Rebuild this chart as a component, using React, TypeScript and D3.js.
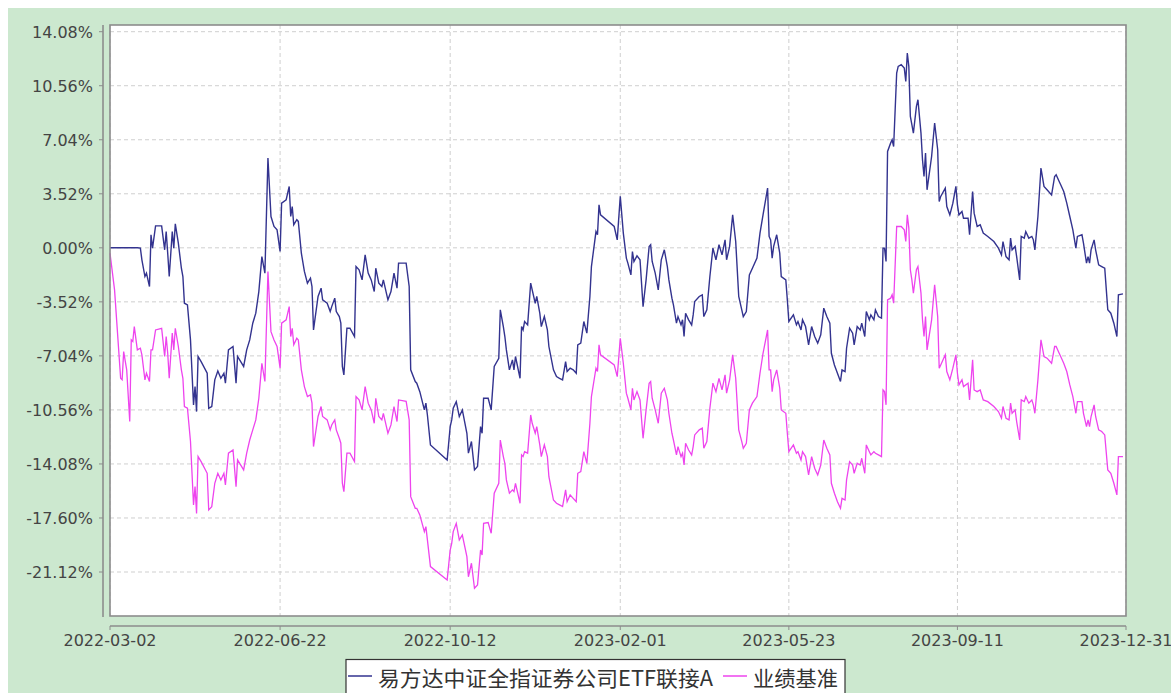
import React from "react";
import * as d3 from "d3";

const dates: string[] = [
"2022-03-02","2022-03-05","2022-03-09","2022-03-10","2022-03-11","2022-03-13","2022-03-15","2022-03-16","2022-03-17","2022-03-18",
"2022-03-20","2022-03-22","2022-03-23","2022-03-25","2022-03-26","2022-03-28","2022-03-29","2022-03-30","2022-04-01","2022-04-05",
"2022-04-07","2022-04-08","2022-04-09","2022-04-10","2022-04-12","2022-04-13","2022-04-14","2022-04-16","2022-04-18","2022-04-19",
"2022-04-20","2022-04-22","2022-04-24","2022-04-26","2022-04-27","2022-04-28","2022-04-29","2022-05-01","2022-05-05","2022-05-06",
"2022-05-08","2022-05-10","2022-05-12","2022-05-14","2022-05-16","2022-05-17","2022-05-19","2022-05-22","2022-05-24","2022-05-25",
"2022-05-29","2022-05-31","2022-06-02","2022-06-04","2022-06-06","2022-06-08","2022-06-10","2022-06-12","2022-06-14","2022-06-16",
"2022-06-18","2022-06-20","2022-06-22","2022-06-23","2022-06-26","2022-06-28","2022-06-29","2022-06-30","2022-07-01","2022-07-03",
"2022-07-04","2022-07-06","2022-07-08","2022-07-10","2022-07-12","2022-07-13","2022-07-14","2022-07-17","2022-07-19","2022-07-20",
"2022-07-23","2022-07-25","2022-07-26","2022-07-28","2022-07-29","2022-07-31","2022-08-01","2022-08-02","2022-08-03","2022-08-05",
"2022-08-07","2022-08-10","2022-08-11","2022-08-13","2022-08-15","2022-08-17","2022-08-19","2022-08-21","2022-08-23","2022-08-24",
"2022-08-26","2022-08-28","2022-08-29","2022-09-01","2022-09-03","2022-09-05","2022-09-07","2022-09-08","2022-09-13","2022-09-15",
"2022-09-16","2022-09-19","2022-09-20","2022-09-22","2022-09-25","2022-09-26","2022-09-27","2022-09-29","2022-10-10","2022-10-12",
"2022-10-13","2022-10-14","2022-10-16","2022-10-18","2022-10-20","2022-10-23","2022-10-24","2022-10-26","2022-10-28","2022-10-30",
"2022-11-01","2022-11-02","2022-11-03","2022-11-06","2022-11-08","2022-11-10","2022-11-13","2022-11-14","2022-11-16","2022-11-17",
"2022-11-18","2022-11-20","2022-11-22","2022-11-23","2022-11-24","2022-11-27","2022-11-28","2022-11-29","2022-11-30","2022-12-02",
"2022-12-04","2022-12-05","2022-12-07","2022-12-08","2022-12-10","2022-12-11","2022-12-13","2022-12-15","2022-12-16","2022-12-19",
"2022-12-21","2022-12-23","2022-12-25","2022-12-27","2022-12-28","2022-12-30","2023-01-01","2023-01-03","2023-01-04","2023-01-06",
"2023-01-08","2023-01-10","2023-01-12","2023-01-13","2023-01-16","2023-01-17","2023-01-18","2023-01-19","2023-01-28","2023-01-30",
"2023-02-01","2023-02-03","2023-02-05","2023-02-06","2023-02-08","2023-02-09","2023-02-10","2023-02-12","2023-02-14","2023-02-16",
"2023-02-18","2023-02-20","2023-02-21","2023-02-22","2023-02-24","2023-02-26","2023-02-28","2023-03-02","2023-03-04","2023-03-05",
"2023-03-07","2023-03-08","2023-03-10","2023-03-11","2023-03-13","2023-03-14","2023-03-15","2023-03-16","2023-03-18","2023-03-20",
"2023-03-21","2023-03-22","2023-03-25","2023-03-27","2023-03-28","2023-03-30","2023-04-01","2023-04-03","2023-04-05","2023-04-07",
"2023-04-09","2023-04-11","2023-04-12","2023-04-14","2023-04-16","2023-04-18","2023-04-20","2023-04-22","2023-04-23","2023-04-25",
"2023-04-27","2023-04-29","2023-05-02","2023-05-04","2023-05-06","2023-05-09","2023-05-10","2023-05-11","2023-05-12","2023-05-13",
"2023-05-15","2023-05-17","2023-05-18","2023-05-21","2023-05-22","2023-05-23","2023-05-26","2023-05-28","2023-05-29","2023-05-31",
"2023-06-01","2023-06-03","2023-06-05","2023-06-07","2023-06-09","2023-06-11","2023-06-13","2023-06-15","2023-06-17","2023-06-19",
"2023-06-20","2023-06-22","2023-06-24","2023-06-26","2023-06-27","2023-06-29","2023-06-30","2023-07-02","2023-07-04","2023-07-05",
"2023-07-07","2023-07-09","2023-07-10","2023-07-12","2023-07-13","2023-07-15","2023-07-16","2023-07-18","2023-07-19","2023-07-21",
"2023-07-23","2023-07-24","2023-07-25","2023-07-26","2023-07-27","2023-07-29","2023-07-30","2023-07-31","2023-08-02","2023-08-03",
"2023-08-05","2023-08-07","2023-08-08","2023-08-09","2023-08-10","2023-08-11","2023-08-12","2023-08-13","2023-08-15","2023-08-16",
"2023-08-18","2023-08-19","2023-08-20","2023-08-21","2023-08-22","2023-08-25","2023-08-27","2023-08-29","2023-08-30","2023-08-31",
"2023-09-03","2023-09-04","2023-09-06","2023-09-08","2023-09-10","2023-09-11","2023-09-12","2023-09-14","2023-09-15","2023-09-18",
"2023-09-19","2023-09-21","2023-09-22","2023-09-24","2023-09-26","2023-09-28","2023-10-01","2023-10-05","2023-10-08","2023-10-10",
"2023-10-11","2023-10-13","2023-10-15","2023-10-16","2023-10-17","2023-10-19","2023-10-20","2023-10-22","2023-10-23","2023-10-25",
"2023-10-26","2023-10-28","2023-10-30","2023-10-31","2023-11-01","2023-11-03","2023-11-05","2023-11-07","2023-11-09","2023-11-12",
"2023-11-14","2023-11-15","2023-11-17","2023-11-18","2023-11-20","2023-11-22","2023-11-24","2023-11-26","2023-11-28","2023-11-29",
"2023-12-02","2023-12-03","2023-12-05","2023-12-06","2023-12-07","2023-12-08","2023-12-10","2023-12-11","2023-12-13","2023-12-15",
"2023-12-17","2023-12-19","2023-12-21","2023-12-23","2023-12-25","2023-12-26","2023-12-29"
];

const fundValues: number[] = [
0.00,0.00,0.00,0.00,0.00,0.00,0.00,0.00,0.00,0.00,
0.00,-0.02,-0.78,-1.87,-1.65,-2.52,0.85,-0.02,1.43,1.43,
-0.13,1.06,-0.35,-1.87,1.06,-0.02,1.56,0.30,-1.33,-1.87,
-3.61,-3.72,-6.00,-10.23,-9.04,-10.67,-7.08,-7.41,-8.17,-10.45,
-10.34,-8.60,-8.02,-8.50,-8.17,-8.82,-6.65,-6.43,-8.82,-7.08,
-7.73,-6.65,-6.00,-4.91,-4.26,-2.85,-0.57,-1.65,5.85,2.04,
1.39,1.17,-0.24,2.91,3.13,4.00,2.04,2.69,1.50,1.83,
1.72,-0.35,-1.54,-2.30,-1.98,-2.52,-5.35,-3.17,-2.63,-3.39,
-3.61,-4.15,-3.83,-3.28,-4.15,-4.48,-4.91,-7.73,-8.28,-5.24,
-5.24,-5.78,-1.22,-1.43,-2.09,-0.46,-1.65,-2.09,-2.85,-1.33,
-2.30,-2.52,-2.09,-3.39,-2.85,-1.65,-2.63,-1.00,-1.00,-2.52,
-7.95,-8.71,-8.82,-9.37,-10.56,-10.12,-10.89,-12.84,-13.82,-11.65,
-11.21,-10.45,-10.02,-10.99,-10.56,-12.08,-13.38,-12.62,-14.47,-14.25,
-11.65,-12.08,-9.80,-9.80,-10.56,-7.73,-7.20,-4.04,-5.13,-5.78,
-6.65,-7.95,-7.30,-7.95,-7.08,-8.50,-5.13,-5.35,-4.80,-5.02,
-2.30,-2.74,-3.61,-3.17,-4.26,-5.13,-4.48,-5.35,-6.43,-7.95,
-8.39,-8.50,-8.60,-7.41,-8.06,-7.84,-7.95,-8.17,-6.32,-6.21,
-4.80,-5.56,-3.17,-1.22,1.06,0.85,2.80,2.15,1.39,0.52,
3.35,0.96,-0.67,-1.00,-1.76,-0.24,-0.89,-0.52,-0.78,-3.83,
-2.09,0.09,0.20,-0.89,-1.65,-2.74,-0.78,-0.13,-1.22,-2.09,
-3.28,-3.72,-4.91,-4.48,-5.02,-4.69,-5.78,-4.26,-4.69,-5.02,
-4.37,-3.50,-3.17,-3.06,-4.48,-4.04,-1.87,-0.02,-0.78,0.20,
-0.46,0.52,-0.78,0.09,2.15,0.41,-3.17,-4.04,-4.48,-4.15,
-1.76,-1.33,-0.67,0.96,2.15,3.89,0.74,0.52,-0.67,0.09,
0.85,-0.35,-1.87,-2.09,-3.39,-4.80,-4.37,-5.02,-4.80,-5.35,
-4.69,-5.13,-6.32,-5.13,-5.78,-6.21,-5.67,-3.93,-4.48,-4.91,
-6.87,-7.63,-8.17,-8.71,-7.95,-8.06,-6.54,-5.24,-5.56,-6.32,
-5.13,-5.35,-4.91,-5.78,-4.15,-4.69,-4.37,-4.69,-4.04,-4.48,
-4.58,-0.02,-0.02,-0.89,6.28,6.82,7.04,6.60,11.39,11.82,
11.93,11.71,10.84,12.69,11.82,8.56,8.02,7.47,9.21,9.65,
7.47,5.74,4.65,6.17,3.78,5.95,8.13,6.39,3.02,3.35,
3.89,2.69,2.15,2.91,4.00,2.80,2.15,2.37,1.93,1.93,
0.85,3.67,2.26,1.39,1.50,0.96,0.74,0.41,-0.02,-0.46,
0.41,-0.57,-0.78,0.63,-0.13,0.09,-0.57,-2.09,0.74,0.63,
1.06,0.63,0.74,0.52,-0.13,2.04,5.20,4.00,3.78,3.45,
4.65,4.76,4.32,4.11,3.67,2.91,2.04,1.17,-0.02,0.74,
0.85,0.30,-1.00,-0.57,-1.00,-0.13,0.52,-0.13,-1.11,-1.22,
-1.33,-4.04,-4.26,-4.91,-5.78,-3.06,-3.00
];

const benchmarkValues: number[] = [
-0.35,-2.74,-8.50,-8.60,-6.76,-7.95,-11.32,-6.00,-6.10,-5.13,
-6.65,-6.54,-6.98,-8.60,-8.17,-8.71,-6.65,-6.65,-5.35,-5.24,
-7.08,-5.78,-6.87,-8.50,-5.56,-6.65,-5.24,-6.43,-7.95,-8.50,
-10.34,-10.45,-12.62,-16.75,-15.56,-17.30,-13.60,-13.93,-14.69,-17.08,
-16.86,-15.34,-14.69,-15.12,-14.69,-15.45,-13.38,-13.17,-15.56,-13.82,
-14.47,-13.38,-12.52,-11.86,-11.21,-9.80,-7.52,-8.71,-1.54,-5.46,
-6.00,-6.43,-7.84,-4.91,-4.69,-3.83,-5.78,-5.24,-6.32,-5.89,
-6.00,-7.95,-9.04,-9.69,-9.58,-10.12,-12.95,-10.99,-10.34,-10.99,
-11.21,-11.86,-11.54,-11.21,-11.86,-12.41,-12.73,-15.34,-15.89,-13.38,
-13.38,-13.93,-9.69,-9.91,-10.56,-9.04,-10.12,-10.56,-11.43,-9.80,
-10.99,-11.21,-10.78,-12.08,-11.54,-10.34,-11.32,-9.91,-10.00,-11.21,
-16.21,-16.97,-16.97,-17.40,-18.49,-18.16,-19.03,-20.77,-21.64,-19.69,
-19.25,-18.49,-17.95,-19.03,-18.71,-20.12,-21.43,-20.55,-22.18,-21.97,
-19.69,-20.01,-17.95,-17.90,-18.60,-15.99,-15.34,-12.52,-13.60,-14.04,
-15.12,-15.99,-15.77,-15.88,-15.34,-16.64,-13.49,-13.60,-13.28,-13.38,
-10.89,-11.43,-12.08,-11.65,-12.84,-13.60,-12.84,-13.60,-14.91,-16.43,
-16.64,-16.75,-16.86,-15.77,-16.54,-16.10,-16.32,-16.54,-14.69,-14.58,
-13.28,-14.04,-11.43,-9.69,-7.84,-8.06,-6.32,-6.97,-7.63,-8.39,
-5.89,-7.52,-9.47,-9.80,-10.56,-9.15,-9.91,-9.37,-9.91,-12.41,
-10.56,-8.82,-8.71,-9.80,-10.56,-11.43,-9.47,-9.15,-9.91,-10.78,
-12.08,-12.52,-13.49,-12.95,-13.60,-13.38,-14.15,-12.73,-13.17,-13.49,
-12.95,-12.19,-11.86,-11.75,-13.06,-12.62,-10.45,-8.82,-9.37,-8.50,
-9.26,-8.28,-9.47,-8.60,-6.97,-8.50,-11.86,-12.62,-13.06,-12.73,
-10.56,-10.12,-9.69,-8.17,-6.87,-5.35,-7.95,-7.95,-9.37,-8.60,
-7.95,-9.15,-10.56,-10.78,-12.08,-13.28,-12.84,-13.38,-13.28,-13.82,
-13.28,-13.60,-14.80,-13.60,-14.36,-14.80,-14.15,-12.52,-13.06,-13.49,
-15.34,-15.99,-16.54,-16.97,-16.32,-16.43,-15.12,-13.93,-14.15,-14.69,
-14.04,-14.15,-13.71,-14.69,-12.84,-13.28,-13.49,-13.28,-13.38,-13.49,
-13.60,-9.26,-9.37,-10.23,-3.39,-3.28,-3.06,-3.61,1.39,1.39,
1.39,1.17,0.41,2.15,1.28,-1.43,-2.09,-2.95,-1.43,-1.22,
-2.95,-4.69,-5.78,-4.48,-6.65,-4.69,-2.41,-4.48,-7.84,-7.63,
-6.97,-8.06,-8.60,-7.84,-6.97,-8.17,-8.93,-8.60,-9.04,-8.82,
-9.91,-7.30,-9.26,-9.37,-9.26,-9.91,-10.02,-10.34,-10.67,-11.10,
-10.34,-11.10,-11.21,-10.12,-10.78,-10.56,-11.32,-12.52,-9.91,-10.02,
-9.69,-10.12,-9.91,-10.23,-10.78,-8.60,-6.00,-7.08,-7.19,-7.52,
-6.43,-6.43,-6.87,-7.08,-7.52,-8.06,-8.93,-9.69,-10.78,-10.02,
-10.02,-10.78,-11.65,-11.21,-11.65,-10.99,-10.23,-10.99,-11.86,-11.97,
-12.19,-14.47,-14.69,-15.34,-16.10,-13.60,-13.60
];

const yTickValues: number[] = [14.08, 10.56, 7.04, 3.52, 0, -3.52, -7.04, -10.56, -14.08, -17.6, -21.12];
const xTickLabels: string[] = ["2022-03-02", "2022-06-22", "2022-10-12", "2023-02-01", "2023-05-23", "2023-09-11", "2023-12-31"];
const seriesNames: string[] = ["易方达中证全指证券公司ETF联接A", "业绩基准"];
const seriesColors: string[] = ["#33338f", "#ee44ee"];

const parse = d3.timeParse("%Y-%m-%d");

export default function App() {
  const W = 1171, H = 693;
  const left = 110, right = 1126, top = 25, bottom = 616;
  const x = d3.scaleTime()
    .domain([parse("2022-03-02") as Date, parse("2023-12-31") as Date])
    .range([left, right]);
  const y = d3.scaleLinear().domain([-21.12, 14.08]).range([572, 31.7]);

  const rows = dates.map((d, i) => ({ d: parse(d) as Date, f: fundValues[i], b: benchmarkValues[i] }));
  const lineF = d3.line<any>().x(r => x(r.d)).y(r => y(r.f));
  const lineB = d3.line<any>().x(r => x(r.d)).y(r => y(r.b));

  const font = "'DejaVu Sans', sans-serif";
  const axisColor = "#8c8c8c";

  return (
    <svg width={W} height={H} style={{ position: "absolute", left: 0, top: 0 }}>
      <rect x={8} y={8} width={W - 8} height={H - 8} fill="#cce8cf" />
      <rect x={left} y={top} width={right - left} height={bottom - top} fill="#ffffff" />
      {yTickValues.map((v, i) => (
        <line key={"gy" + i} x1={left} x2={right} y1={y(v)} y2={y(v)} stroke="#cfcfcf" strokeWidth={1} strokeDasharray="4,3" />
      ))}
      {xTickLabels.map((t, i) => (
        <line key={"gx" + i} x1={x(parse(t) as Date)} x2={x(parse(t) as Date)} y1={top} y2={bottom} stroke="#cfcfcf" strokeWidth={1} strokeDasharray="4,3" />
      ))}
      <path d={lineB(rows) || ""} fill="none" stroke={seriesColors[1]} strokeWidth={1.3} />
      <path d={lineF(rows) || ""} fill="none" stroke={seriesColors[0]} strokeWidth={1.4} />
      <rect x={left} y={top} width={right - left} height={bottom - top} fill="none" stroke={axisColor} strokeWidth={1.6} />
      {/* y axis */}
      <line x1={103} x2={103} y1={top} y2={617} stroke={axisColor} strokeWidth={1.6} />
      {yTickValues.map((v, i) => (
        <g key={"ty" + i}>
          <line x1={99} x2={103} y1={y(v)} y2={y(v)} stroke={axisColor} strokeWidth={1} />
          <text x={93} y={y(v) + 6} textAnchor="end" fontFamily={font} fontSize={16} fill="#444">{v.toFixed(2) + "%"}</text>
        </g>
      ))}
      {/* x axis */}
      <line x1={left} x2={right} y1={626} y2={626} stroke={axisColor} strokeWidth={1.6} />
      {xTickLabels.map((t, i) => (
        <g key={"tx" + i}>
          <line x1={x(parse(t) as Date)} x2={x(parse(t) as Date)} y1={626} y2={630} stroke={axisColor} strokeWidth={1} />
          <text x={x(parse(t) as Date)} y={646} textAnchor="middle" fontFamily={font} fontSize={16} fill="#444">{t}</text>
        </g>
      ))}
      {/* legend */}
      <rect x={346} y={659.5} width={499} height={40} fill="#ffffff" stroke="#333" strokeWidth={1.2} />
      <line x1={348} x2={372} y1={676} y2={676} stroke={seriesColors[0]} strokeWidth={1.5} />
      <text x={378} y={686} fontFamily="'Noto Sans CJK SC', sans-serif" fontSize={21} fill="#333" textLength={335} lengthAdjust="spacingAndGlyphs">{seriesNames[0]}</text>
      <line x1={723} x2={747} y1={676} y2={676} stroke={seriesColors[1]} strokeWidth={1.5} />
      <text x={753} y={686} fontFamily="'Noto Sans CJK SC', sans-serif" fontSize={21} fill="#333" textLength={85} lengthAdjust="spacingAndGlyphs">{seriesNames[1]}</text>
    </svg>
  );
}
